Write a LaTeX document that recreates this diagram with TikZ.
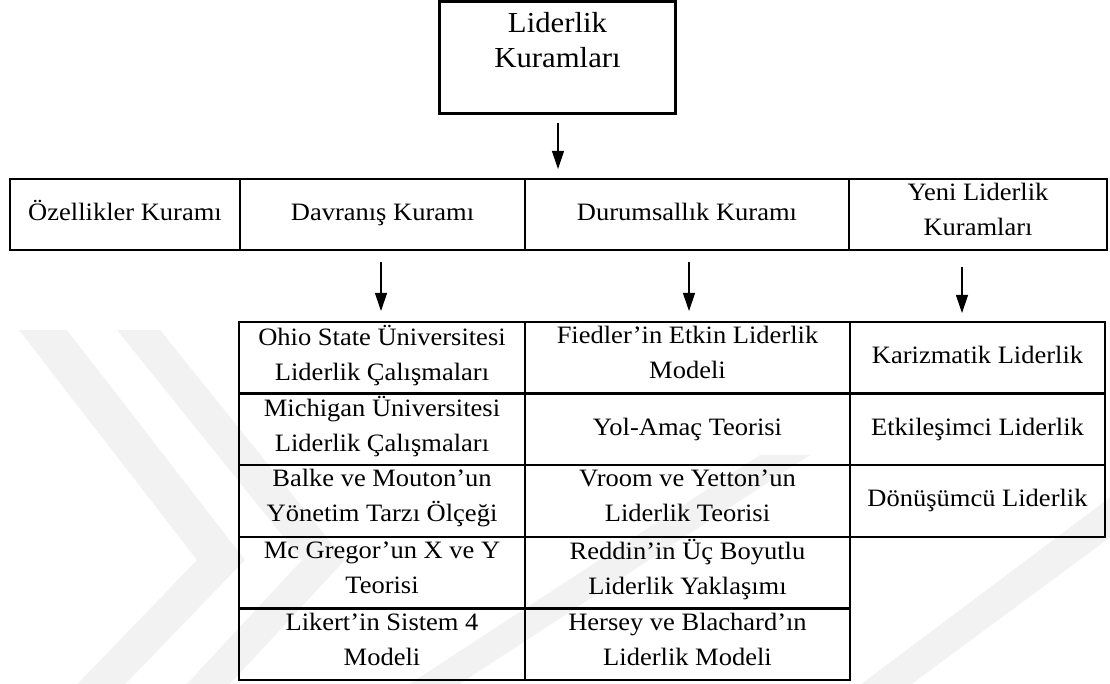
\documentclass[tikz,border=0pt]{standalone}
\usepackage{fontspec}
\setmainfont{Liberation Serif}[FakeStretch=1.06]
\usetikzlibrary{arrows.meta}
\newcommand{\cellfont}{\fontsize{25}{35}\selectfont}
\newcommand{\topfont}{\fontsize{29}{35.4}\selectfont}
\newcommand{\ctop}{\rule{0pt}{22pt}}
\newcommand{\cbot}{\rule[-10.6pt]{0pt}{10.6pt}}
\tikzset{
  cellbox/.style={draw, line width=2.4pt, inner sep=0pt, outer sep=0pt, align=center,
    font=\cellfont, execute at begin node=\ctop, execute at end node=\cbot},
  arr/.style={line width=1.1pt, -{Triangle[length=18pt,width=12pt]}},
  wm/.style={fill=black!5, draw=none}
}
\begin{document}
\begin{tikzpicture}[x=1pt,y=-1pt]
\useasboundingbox (0,0) rectangle (1110,684);
% watermark
\begin{scope}
\clip (0,0) rectangle (1110,684);
\fill[wm] (19,330) -- (67,330) -- (245,560) -- (110,700) -- (62,700) -- (197,560) -- cycle;
\fill[wm] (117,330) -- (160,330) -- (345,560) -- (215,700) -- (172,700) -- (302,560) -- cycle;
\fill[wm] (385,700) -- (435,700) -- (810,455) -- (760,455) -- cycle;
\fill[wm] (840,700) -- (890,700) -- (1120,530) -- (1120,490) -- cycle;
\end{scope}
% top box
\node[draw, line width=2.4pt, inner sep=0pt, outer sep=0pt, align=center, font=\topfont,
  minimum width=236pt, minimum height=112pt] (top) at (557.5,57.5)
  {\rule{0pt}{26pt}Liderlik\\Kuramları\rule[-41pt]{0pt}{41pt}};
\coordinate (t0) at (558,123);
\coordinate (t1) at (558,169);
\draw[arr] (t0) -- (t1);
% header row
\node[cellbox, minimum width=230pt, minimum height=71pt] (h1) at (125,214.5) {Özellikler Kuramı};
\node[cellbox, minimum width=285pt, minimum height=71pt] (h2) at (382.5,214.5) {Davranış Kuramı};
\node[cellbox, minimum width=324pt, minimum height=71pt] (h3) at (687,214.5) {Durumsallık Kuramı};
\node[cellbox, minimum width=258pt, minimum height=71pt] (h4) at (978,214.5) {Yeni Liderlik\\Kuramları};
% arrows
\coordinate (a1s) at (381,262); \coordinate (a1e) at (381,311);
\coordinate (a2s) at (689,262); \coordinate (a2e) at (689,311);
\coordinate (a3s) at (962,267); \coordinate (a3e) at (962,313);
\draw[arr] (a1s) -- (a1e);
\draw[arr] (a2s) -- (a2e);
\draw[arr] (a3s) -- (a3e);
% lower table column 1
\node[cellbox, minimum width=286pt, minimum height=71.6pt] (d1) at (382,357.8) {Ohio State Üniversitesi\\Liderlik Çalışmaları};
\node[cellbox, minimum width=286pt, minimum height=71.6pt] (d2) at (382,429.4) {Michigan Üniversitesi\\Liderlik Çalışmaları};
\node[cellbox, minimum width=286pt, minimum height=71.6pt] (d3) at (382,501.0) {Balke ve Mouton’un\\Yönetim Tarzı Ölçeği};
\node[cellbox, minimum width=286pt, minimum height=71.6pt] (d4) at (382,572.6) {Mc Gregor’un X ve Y\\Teorisi};
\node[cellbox, minimum width=286pt, minimum height=71.6pt] (d5) at (382,644.2) {Likert’in Sistem 4\\Modeli};
% column 2
\node[cellbox, minimum width=325pt, minimum height=71.6pt] (s1) at (687.5,357.8) {Fiedler’in Etkin Liderlik\\Modeli};
\node[cellbox, minimum width=325pt, minimum height=71.6pt] (s2) at (687.5,429.4) {Yol-Amaç Teorisi};
\node[cellbox, minimum width=325pt, minimum height=71.6pt] (s3) at (687.5,501.0) {Vroom ve Yetton’un\\Liderlik Teorisi};
\node[cellbox, minimum width=325pt, minimum height=71.6pt] (s4) at (687.5,572.6) {Reddin’in Üç Boyutlu\\Liderlik Yaklaşımı};
\node[cellbox, minimum width=325pt, minimum height=71.6pt] (s5) at (687.5,644.2) {Hersey ve Blachard’ın\\Liderlik Modeli};
% column 3
\node[cellbox, minimum width=255pt, minimum height=71.6pt] (y1) at (977.5,357.8) {Karizmatik Liderlik};
\node[cellbox, minimum width=255pt, minimum height=71.6pt] (y2) at (977.5,429.4) {Etkileşimci Liderlik};
\node[cellbox, minimum width=255pt, minimum height=71.6pt] (y3) at (977.5,501.0) {Dönüşümcü Liderlik};
\end{tikzpicture}
\end{document}
